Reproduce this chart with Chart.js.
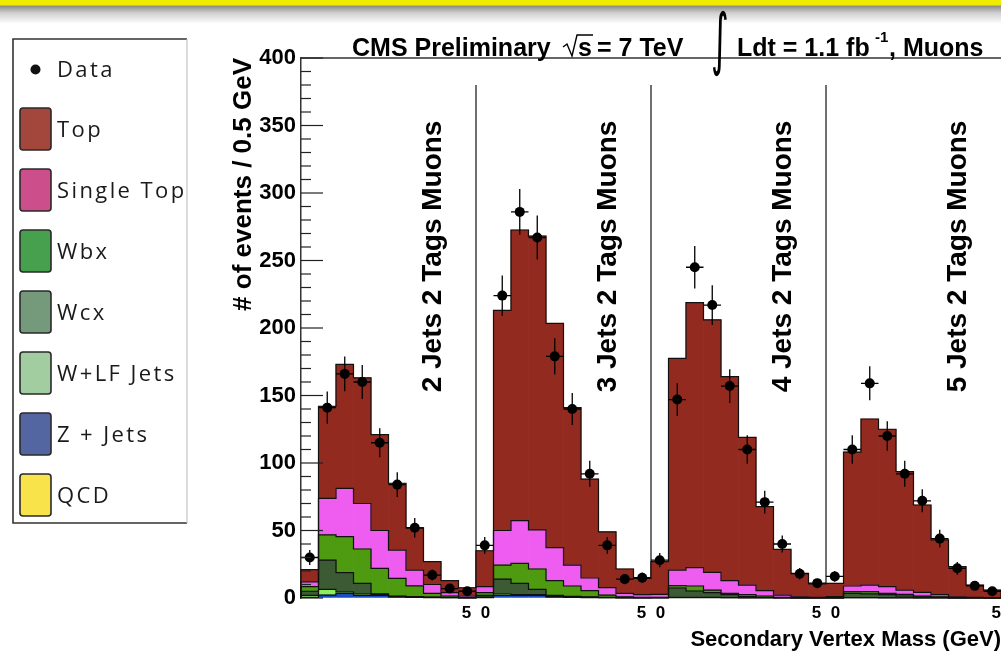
<!DOCTYPE html>
<html><head><meta charset="utf-8">
<script src="https://cdn.jsdelivr.net/npm/chart.js@4.4.1/dist/chart.umd.min.js"></script>
<style>
html,body{margin:0;padding:0;}
body{width:1001px;height:655px;overflow:hidden;background:linear-gradient(to bottom,#f0ec00 0px,#f0ec00 5px,#8c8c8c 6px,#d0d0d0 13px,#ffffff 24px,#ffffff 100%);}
canvas{display:block;}
</style></head><body>
<canvas id="c" width="1001" height="655"></canvas>
<script>
// ---------------- data ----------------
const panels = ['2 Jets 2 Tags Muons', '3 Jets 2 Tags Muons', '4 Jets 2 Tags Muons', '5 Jets 2 Tags Muons'];
const binCenters = [0.25, 0.75, 1.25, 1.75, 2.25, 2.75, 3.25, 3.75, 4.25, 4.75];
const categories = panels.flatMap(p => binCenters.map(c => p + ' ' + c));

const dataCounts = [
  30, 141, 166, 160, 115, 84, 52, 17, 7, 5,
  39, 224, 286, 267, 179, 140, 92, 39, 14, 15,
  28, 147, 245, 217, 157, 110, 71, 40, 18, 11,
  16, 110, 159, 120, 92, 72, 44, 22, 9, 5];
const topVals = [
  9, 68.2, 91.8, 93, 71, 49.5, 31.3, 17, 8.8, 6.1,
  26.6, 163, 215.3, 217.6, 166.2, 116.6, 73.2, 41.3, 18, 12.1,
  24.2, 156.8, 196.3, 187, 151.2, 109.4, 62.3, 33.8, 17.5, 9.9,
  9.9, 99.1, 123, 116.6, 87.7, 64.7, 40.5, 22.4, 9.1, 5.6];
const singleTopVals = [
  3.5, 27.1, 35.8, 33.7, 28, 20.9, 11.7, 6.5, 2.5, 1,
  4.4, 25.6, 31.6, 28.9, 24.5, 15.5, 9.4, 5.5, 2.7, 2,
  2.2, 11.6, 13.6, 13.1, 9.3, 7.1, 3.9, 1.7, 0.6, 0.3,
  0.7, 4.2, 4.9, 4.9, 3.2, 2.7, 1.7, 0.5, 0.3, 0.2];
const wbxVals = [
  3.5, 18.7, 26.6, 25.4, 19, 13.1, 8, 2.9, 1, 0.3,
  2, 10.4, 14.8, 15.1, 10.8, 7.7, 4.6, 1.7, 0.5, 0.3,
  0.2, 1.7, 3.7, 1.9, 1, 1.5, 1, 0.2, 0.1, 0.1,
  0.2, 1.2, 1.7, 1, 1.2, 0.7, 0.4, 0.2, 0.1, 0.1];
const wcxVals = [
  3, 21.6, 14.3, 7.9, 0.5, 0.5, 0.3, 0.2, 0.2, 0.1,
  1.2, 11, 8.4, 3.9, 1, 0.5, 0.3, 0.2, 0.1, 0.1,
  0.1, 6.9, 4.7, 3.6, 2.2, 0.8, 0.3, 0.2, 0.1, 0.1,
  0.1, 3.2, 2.7, 2.3, 1.3, 0.7, 0.4, 0.1, 0.1, 0];
const wlfVals = [
  1.5, 4.2, 1, 1, 0.5, 0.2, 0.2, 0.1, 0.1, 0,
  0.5, 1, 0.5, 0.5, 0.2, 0.2, 0.2, 0.1, 0.1, 0,
  0.1, 0.2, 0.2, 0.2, 0.1, 0.1, 0.1, 0, 0, 0,
  0, 0.1, 0.1, 0.1, 0.1, 0, 0, 0, 0, 0];
const zjetsVals = [
  0.5, 2.2, 3.5, 2, 2, 0.8, 0.5, 0.3, 0.2, 0.1,
  0.3, 2, 2, 2, 0.8, 0.5, 0.3, 0.2, 0.1, 0.1,
  0.1, 0.3, 0.3, 0.2, 0.2, 0.1, 0.1, 0.1, 0, 0,
  0, 0.2, 0.2, 0.1, 0.1, 0.1, 0, 0, 0, 0];
const qcdVals = [
  0, 0, 0, 0, 0, 0, 0, 0, 0, 0,
  0, 0, 0, 0, 0, 0, 0, 0, 0, 0,
  0, 0, 0, 0, 0, 0, 0, 0, 0, 0,
  0, 0, 0, 0, 0, 0, 0, 0, 0, 0];
const yTicks = [0, 50, 100, 150, 200, 250, 300, 350, 400];
const xTickLabels = ['', '5  0', '5  0', '5  0', '5'];

// ---------------- styles ----------------
const plotColors = {top:'#932a1f', st:'#ee5cf0', wbx:'#4e9a10', wcx:'#3c5b35', wlf:'#8cef5a', z:'#1a4cc4', qcd:'#f5e43a'};
const legendItems = [
  ['Top', '#a3463b'], ['Single Top', '#cc4e8a'], ['Wbx', '#47a04e'], ['Wcx', '#74997b'],
  ['W+LF Jets', '#a2cda0'], ['Z + Jets', '#5366a1'], ['QCD', '#f9e34a']];

function bar(label, data, color) {
  return {type:'bar', label, data, backgroundColor:color, borderWidth:0, barPercentage:1, categoryPercentage:1, xAxisID:'x', yAxisID:'y'};
}

const decor = {
  id:'decor',
  beforeDatasetsDraw(chart) {
    const {ctx, scales:{x, y}} = chart;
    ctx.save();
    ctx.strokeStyle = '#333'; ctx.lineWidth = 1.4;
    for (let p = 1; p < panels.length; p++) {
      const bx = (x.getPixelForValue(p*10-1) + x.getPixelForValue(p*10)) / 2;
      ctx.beginPath(); ctx.moveTo(bx, y.getPixelForValue(380)); ctx.lineTo(bx, y.getPixelForValue(0)); ctx.stroke();
    }
    ctx.restore();
  },
  beforeDatasetDraw(chart, args) {
    if (args.meta.type !== 'line') return;
    const {ctx, scales:{y}} = chart;
    const y0 = y.getPixelForValue(0);
    ctx.save();
    ctx.strokeStyle = '#111'; ctx.lineWidth = 1.2;
    let bw = 17.5;
    chart.data.datasets.forEach((ds, di) => {
      if (ds.type !== 'bar' || ds.label === 'QCD') return;
      const meta = chart.getDatasetMeta(di);
      ctx.beginPath();
      meta.data.forEach((el, i) => {
        const p = el.getProps(['x','y','width'], true);
        bw = p.width;
        const l = p.x - p.width/2, r = p.x + p.width/2;
        if (i === 0) { ctx.moveTo(l, y0); }
        ctx.lineTo(l, p.y); ctx.lineTo(r, p.y);
        if (i === meta.data.length - 1) ctx.lineTo(r, y0);
      });
      ctx.stroke();
    });
    // error bars
    ctx.strokeStyle = '#000'; ctx.lineWidth = 1.3;
    args.meta.data.forEach((el, i) => {
      const v = dataCounts[i], e = Math.sqrt(v);
      const px = el.x, py = el.y;
      ctx.beginPath();
      ctx.moveTo(px, y.getPixelForValue(v + e)); ctx.lineTo(px, y.getPixelForValue(Math.max(0, v - e)));
      ctx.moveTo(px - bw/2, py); ctx.lineTo(px + bw/2, py);
      ctx.stroke();
    });
    ctx.restore();
  },
  afterDraw(chart) {
    const {ctx, chartArea:a, scales:{x, y}} = chart;
    ctx.save();
    // frame top
    ctx.strokeStyle = '#333'; ctx.lineWidth = 1.5;
    ctx.beginPath(); ctx.moveTo(a.left, a.top); ctx.lineTo(a.right, a.top); ctx.stroke();
    // inward y ticks
    ctx.lineWidth = 1.2; ctx.strokeStyle = '#222';
    for (let v = 0; v <= 400; v += 10) {
      const py = y.getPixelForValue(v);
      const len = (v % 50 === 0) ? 22 : 10;
      ctx.beginPath(); ctx.moveTo(a.left, py); ctx.lineTo(a.left + len, py); ctx.stroke();
    }
    // panel labels
    ctx.fillStyle = '#000';
    ctx.font = 'bold 28px "Liberation Sans", Arial, sans-serif';
    ctx.textAlign = 'center'; ctx.textBaseline = 'middle';
    panels.forEach((p, i) => {
      const px = x.getPixelForValue(i*10 + 7) + 1.5;
      const py = y.getPixelForValue(253);
      ctx.save(); ctx.translate(px, py); ctx.rotate(-Math.PI/2); ctx.fillText(p, 0, 0); ctx.restore();
    });
    // title
    ctx.textAlign = 'left'; ctx.textBaseline = 'alphabetic';
    ctx.font = 'bold 25px "Liberation Sans", Arial, sans-serif';
    const by = 56;
    ctx.fillText('CMS Preliminary', 352, by);
    ctx.fillText('s', 578, by);
    ctx.fillText('= 7 TeV', 597, by);
    ctx.fillText('Ldt = 1.1 fb', 737, by);
    ctx.fillText(', Muons', 889, by);
    ctx.font = 'bold 15px "Liberation Sans", Arial, sans-serif';
    ctx.fillText('-1', 875, 42);
    ctx.lineWidth = 1.4; ctx.strokeStyle = '#000';
    ctx.beginPath(); ctx.moveTo(563, 47); ctx.lineTo(567, 44); ctx.lineTo(572, 56); ctx.lineTo(577, 35); ctx.lineTo(593, 35); ctx.stroke();
    ctx.save();
    ctx.translate(711, 62); ctx.scale(0.5, 1);
    ctx.font = '68px "DejaVu Sans", sans-serif';
    ctx.fillText('\u222B', 0, 0);
    ctx.restore();
    // legend
    ctx.strokeStyle = '#333'; ctx.lineWidth = 1.6;
    ctx.beginPath(); ctx.moveTo(187, 39); ctx.lineTo(13, 39); ctx.lineTo(13, 523); ctx.lineTo(187, 523); ctx.stroke();
    ctx.strokeStyle = '#c4c4c4'; ctx.lineWidth = 1.2;
    ctx.beginPath(); ctx.moveTo(187, 39); ctx.lineTo(187, 523); ctx.stroke();
    ctx.fillStyle = '#111';
    ctx.beginPath(); ctx.arc(35.5, 69.5, 5, 0, Math.PI*2); ctx.fill();
    ctx.font = '22px "Open Sans", "DejaVu Sans", sans-serif';
    ctx.letterSpacing = '2.4px';
    ctx.fillStyle = '#1a1a1a';
    ctx.fillText('Data', 57, 77);
    legendItems.forEach(([t, c], i) => {
      const cy = 129 + 61*i;
      ctx.fillStyle = c; ctx.strokeStyle = '#2a2a2a'; ctx.lineWidth = 1.6;
      ctx.beginPath(); ctx.roundRect(20, cy-21, 31, 42, 3); ctx.fill(); ctx.stroke();
      ctx.fillStyle = '#1a1a1a';
      ctx.fillText(t, 57, cy + 8);
    });
    ctx.restore();
  }
};

new Chart(document.getElementById('c'), {
  data: {
    labels: categories,
    datasets: [
      {type:'line', label:'Data', data:dataCounts, showLine:false, pointRadius:5, pointHoverRadius:5,
       pointBackgroundColor:'#000', pointBorderWidth:0, borderColor:'#000', stack:'data', order:-1, xAxisID:'x', yAxisID:'y'},
      bar('QCD', qcdVals, plotColors.qcd),
      bar('Z + Jets', zjetsVals, plotColors.z),
      bar('W+LF Jets', wlfVals, plotColors.wlf),
      bar('Wcx', wcxVals, plotColors.wcx),
      bar('Wbx', wbxVals, plotColors.wbx),
      bar('Single Top', singleTopVals, plotColors.st),
      bar('Top', topVals, plotColors.top)
    ]
  },
  options: {
    responsive:false, animation:false, devicePixelRatio:1,
    layout:{autoPadding:false, padding:{left:226, top:58, right:0, bottom:0}},
    plugins:{legend:{display:false}, tooltip:{enabled:false}},
    scales:{
      x:{type:'category', stacked:true, display:false, offset:true},
      xt:{type:'linear', position:'bottom', min:0, max:40,
          grid:{display:false, drawTicks:true, tickLength:5}, border:{display:false},
          afterBuildTicks(s){ s.ticks = xTickLabels.map((t, i) => ({value:i*10})); },
          ticks:{autoSkip:false, maxRotation:0, align:'inner', padding:0, color:'#000',
                 font:{family:'"Liberation Sans", Arial, sans-serif', size:17, weight:'bold'},
                 callback:(v, i) => xTickLabels[i]},
          title:{display:true, text:'Secondary Vertex Mass (GeV)', align:'end', color:'#000',
                 font:{family:'"Liberation Sans", Arial, sans-serif', size:22, weight:'bold'}, padding:{top:0, bottom:2}},
          afterFit(s){ s.height = 57; s.paddingLeft = 0; s.paddingRight = 0; }},
      y:{type:'linear', stacked:true, min:0, max:400,
         afterBuildTicks(s){ s.ticks = yTicks.map(v => ({value:v})); },
         grid:{display:false, drawTicks:false}, border:{display:true, color:'#333', width:1.5},
         ticks:{padding:5, color:'#000', font:{family:'"Liberation Sans", Arial, sans-serif', size:22, weight:'bold'}},
         title:{display:true, text:'# of events / 0.5 GeV', align:'end', color:'#000',
                font:{family:'"Liberation Sans", Arial, sans-serif', size:26, weight:'bold'}, padding:{top:2, bottom:0}},
         afterFit(s){ s.width = 75; }}
    }
  },
  plugins:[decor]
});
</script>
</body></html>
